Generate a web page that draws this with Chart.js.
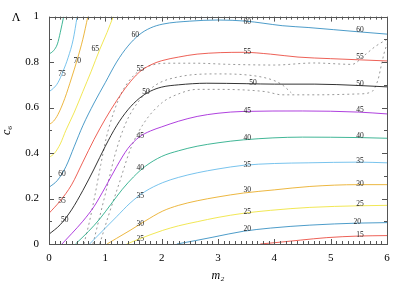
<!DOCTYPE html>
<html><head><meta charset="utf-8">
<script src="https://cdn.jsdelivr.net/npm/chart.js@4/dist/chart.umd.min.js"></script>
<style>html,body{margin:0;padding:0;background:#fff}</style>
</head><body>
<canvas id="c" width="407" height="285"></canvas>
<script>
// ---- data ----
const xTicks = [0, 1, 2, 3, 4, 5, 6];
const yTicks = [0, 0.2, 0.4, 0.6, 0.8, 1];
const yTickLabels = ['0', '0.2', '0.4', '0.6', '0.8', '1'];

const level80 = [[0,0.835],[0.08,0.85],[0.15,0.88],[0.2,0.93],[0.26,1.0]];
const level75 = [[0,0.67],[0.08,0.685],[0.16,0.71],[0.25,0.76],[0.34,0.82],[0.43,0.9],[0.5,1.0]];
const level70 = [[0,0.525],[0.08,0.54],[0.16,0.57],[0.28,0.64],[0.4,0.73],[0.5,0.81],[0.6,0.9],[0.69,1.0]];
const level65 = [[0,0.38],[0.1,0.4],[0.2,0.44],[0.3,0.5],[0.45,0.58],[0.6,0.67],[0.75,0.76],[0.9,0.855],[1.03,0.93],[1.14,1.0]];
const level60 = [[0,0.249],[0.15,0.28],[0.3,0.34],[0.45,0.43],[0.6,0.52],[0.8,0.62],[1.0,0.71],[1.2,0.8],[1.4,0.87],[1.6,0.92],[1.8,0.95],[2.02,0.967],[2.5,0.98],[3,0.985],[3.5,0.98],[3.8,0.971],[4.14,0.96],[4.6,0.952],[5.5,0.933],[6,0.923]];
const level55 = [[0,0.135],[0.2,0.19],[0.4,0.26],[0.6,0.36],[0.8,0.46],[1.0,0.55],[1.2,0.63],[1.4,0.7],[1.6,0.755],[1.8,0.787],[2.0,0.806],[2.3,0.822],[2.63,0.835],[3.45,0.843],[3.93,0.835],[4.42,0.822],[5,0.815],[5.5,0.81],[6,0.805]];
const level50 = [[0,0.043],[0.2,0.085],[0.4,0.15],[0.6,0.235],[0.8,0.33],[1.0,0.43],[1.2,0.52],[1.4,0.59],[1.6,0.64],[1.8,0.672],[2.0,0.69],[2.3,0.7],[2.8,0.707],[3.5,0.705],[4,0.703],[4.72,0.703],[5.5,0.697],[6,0.691]];
const level45 = [[0.23,0],[0.4,0.045],[0.6,0.1],[0.8,0.165],[1.0,0.25],[1.2,0.34],[1.4,0.42],[1.6,0.47],[1.8,0.497],[2.0,0.515],[2.3,0.54],[2.63,0.561],[3.0,0.575],[3.45,0.583],[4.5,0.585],[5.5,0.58],[6,0.572]];
const level40 = [[0.47,0],[0.7,0.055],[0.9,0.11],[1.1,0.175],[1.3,0.24],[1.5,0.295],[1.7,0.34],[2.0,0.385],[2.3,0.41],[2.63,0.43],[3.0,0.445],[3.45,0.458],[4.5,0.47],[5.5,0.468],[6,0.465]];
const level35 = [[0.72,0],[1.0,0.07],[1.2,0.12],[1.44,0.18],[1.7,0.23],[2.02,0.27],[2.3,0.293],[2.63,0.313],[3.0,0.33],[3.45,0.346],[4.0,0.354],[4.6,0.357],[5.5,0.36],[6,0.357]];
const level30 = [[1.03,0],[1.2,0.025],[1.44,0.06],[1.7,0.1],[2.02,0.145],[2.3,0.17],[2.63,0.19],[3.0,0.207],[3.45,0.224],[4,0.238],[4.63,0.253],[5.5,0.261],[6,0.261]];
const level25 = [[1.38,0],[1.6,0.022],[2.02,0.06],[2.3,0.08],[2.63,0.098],[3.0,0.117],[3.45,0.135],[3.93,0.148],[4.63,0.161],[5.5,0.168],[6,0.17]];
const level20 = [[2.27,0],[2.6,0.015],[2.91,0.03],[3.45,0.056],[3.93,0.07],[4.63,0.083],[5.5,0.092],[6,0.094]];
const level15 = [[3.75,0],[4.1,0.008],[4.46,0.017],[4.93,0.028],[5.5,0.035],[6,0.037]];

const bound1 = [[0.62,0],[0.72,0.1],[0.82,0.22],[0.92,0.35],[1.02,0.47],[1.15,0.58],[1.3,0.67],[1.5,0.74],[1.75,0.78],[2.1,0.795],[2.6,0.795],[3.2,0.79],[4,0.787],[4.7,0.796],[5.38,0.79],[5.6,0.83],[5.8,0.87],[6,0.9]];
const bound2 = [[0.78,0],[0.9,0.12],[1.03,0.25],[1.18,0.4],[1.36,0.53],[1.6,0.63],[1.9,0.7],[2.3,0.735],[2.95,0.748],[3.53,0.743],[3.96,0.722],[4.14,0.7],[4.3,0.665]];
const bound3 = [[0.9,0],[1.05,0.12],[1.25,0.27],[1.45,0.42],[1.68,0.53],[2.0,0.62],[2.3,0.66],[2.63,0.68],[2.95,0.68],[3.84,0.67],[4.14,0.656],[4.72,0.656],[5.5,0.66],[5.73,0.67],[5.84,0.722],[5.9,0.787],[5.95,0.84],[6,0.88]];

const levels = [15,20,25,30,35,40,45,50,55,60,65,70,75,80];
const levelData = {15:level15,20:level20,25:level25,30:level30,35:level35,40:level40,45:level45,50:level50,55:level55,60:level60,65:level65,70:level70,75:level75,80:level80};

// label anchor points [level, m, c6]
const labelSpots = [
  [60,5.52,0.939],[55,5.52,0.822],[50,5.52,0.704],[45,5.52,0.587],[40,5.52,0.474],[35,5.52,0.365],[30,5.52,0.265],[25,5.52,0.174],[20,5.47,0.096],[15,5.52,0.039],
  [60,3.52,0.978],[55,3.52,0.843],[50,3.62,0.709],[45,3.52,0.583],[40,3.52,0.465],[35,3.52,0.348],[30,3.52,0.239],[25,3.52,0.139],[20,3.52,0.065],
  [60,1.53,0.917],[55,1.62,0.77],[50,1.72,0.67],[45,1.62,0.474],[40,1.62,0.335],[35,1.62,0.213],[30,1.62,0.087],[25,1.62,0.022],
  [75,0.23,0.748],[70,0.5,0.804],[65,0.82,0.857],[60,0.23,0.309],[55,0.23,0.191],[50,0.28,0.104]
];

// ---- styles ----
const palette = ['rgba(148,0,211,0.75)','rgba(0,158,115,0.75)','rgba(86,180,233,0.8)','rgba(230,159,0,0.75)','rgba(240,228,66,0.9)','rgba(0,114,178,0.7)','rgba(229,30,16,0.7)','rgba(0,0,0,0.8)'];
function levelColor(l){
  const order = {45:0,40:1,35:2,30:3,25:4,20:5,15:6,50:7,55:6,60:5,65:4,70:3,75:2,80:1};
  return palette[order[l]];
}
const SERIF = '"Liberation Serif","DejaVu Serif",serif';

const toXY = arr => arr.map(p => ({x:p[0], y:p[1]}));
const datasets = [];
levels.forEach(l => datasets.push({
  data: toXY(levelData[l]), borderColor: levelColor(l), borderWidth: 1,
  pointRadius: 0, cubicInterpolationMode: 'monotone', fill: false
}));
[bound1, bound2, bound3].forEach(b => datasets.push({
  data: toXY(b), borderColor: '#999', borderWidth: 1, borderDash: [2,3],
  pointRadius: 0, cubicInterpolationMode: 'monotone', fill: false
}));

const framePlugin = {
  id: 'frame',
  afterDraw(chart){
    const {ctx, chartArea:a, scales:{x, y}} = chart;
    ctx.save();
    ctx.fillStyle = '#222';
    ctx.font = '7.5px ' + SERIF;
    ctx.textAlign = 'center'; ctx.textBaseline = 'middle';
    labelSpots.forEach(s => ctx.fillText(String(s[0]), x.getPixelForValue(s[1]), y.getPixelForValue(s[2])));
    ctx.strokeStyle = '#555'; ctx.lineWidth = 1;
    ctx.strokeRect(Math.round(a.left)+0.5, Math.round(a.top)+0.5, Math.round(a.right-a.left), Math.round(a.bottom-a.top));
    ctx.beginPath();
    for (let i = 0; i <= 60; i++) {
      const v = i/10, px = Math.round(x.getPixelForValue(v)) + 0.5, len = (i % 10 === 0) ? 5 : 3;
      ctx.moveTo(px, a.bottom); ctx.lineTo(px, a.bottom - len);
      ctx.moveTo(px, a.top); ctx.lineTo(px, a.top + len);
    }
    for (let i = 0; i <= 10; i++) {
      const v = i/10, py = Math.round(y.getPixelForValue(v)) + 0.5, len = (i % 2 === 0) ? 5 : 3;
      ctx.moveTo(a.left, py); ctx.lineTo(a.left + len, py);
      ctx.moveTo(a.right, py); ctx.lineTo(a.right - len, py);
    }
    ctx.stroke();
    ctx.fillStyle = '#000';
    ctx.font = '12px ' + SERIF;
    ctx.textAlign = 'center'; ctx.textBaseline = 'middle';
    ctx.fillText('Λ', 16, y.getPixelForValue(1) + 1);
    ctx.restore();
  }
};

new Chart(document.getElementById('c'), {
  type: 'line',
  data: { datasets },
  options: {
    responsive: false, devicePixelRatio: 1, animation: false,
    layout: { padding: { top: 14, right: 20, left: 0, bottom: 0 } },
    plugins: { legend: { display: false }, tooltip: { enabled: false } },
    scales: {
      x: {
        type: 'linear', min: 0, max: 6,
        afterBuildTicks: s => { s.ticks = xTicks.map(v => ({value: v})); },
        afterFit: s => { s.height = 41; },
        grid: { display: false, drawTicks: false }, border: { display: false },
        ticks: { color: '#000', padding: 8, font: { family: SERIF, size: 11 }, callback: v => String(v) },
        title: { display: true, text: 'm₂', color: '#000', padding: { top: 0, bottom: 2 }, font: { family: SERIF, size: 12, style: 'italic' } }
      },
      y: {
        type: 'linear', min: 0, max: 1,
        afterBuildTicks: s => { s.ticks = yTicks.map(v => ({value: v})); },
        afterFit: s => { s.width = 49; },
        grid: { display: false, drawTicks: false }, border: { display: false },
        ticks: { color: '#000', padding: 10, font: { family: SERIF, size: 11 },
          callback: (v) => { const i = yTicks.findIndex(t => Math.abs(t - v) < 1e-9); return i >= 0 ? yTickLabels[i] : ''; } },
        title: { display: true, text: 'c₆', color: '#000', padding: { top: 0, bottom: 0 }, font: { family: SERIF, size: 12, style: 'italic' } }
      }
    }
  },
  plugins: [framePlugin]
});
</script>
</body></html>
